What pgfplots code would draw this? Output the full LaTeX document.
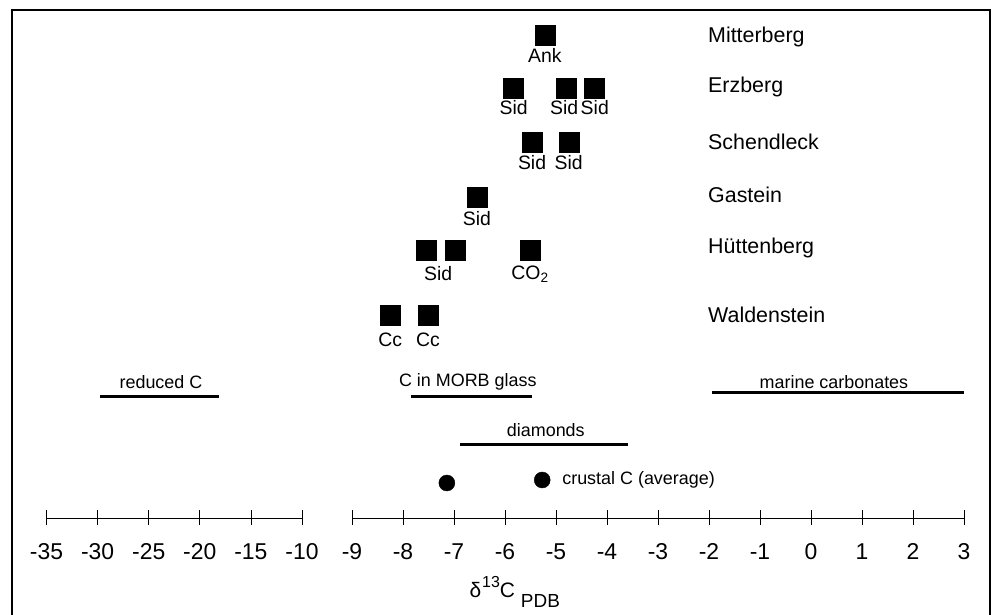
\documentclass[border=0pt]{standalone}
\usepackage{pgfplots}
\pgfplotsset{compat=1.18}
\usepackage{fontspec}
\setmainfont{Liberation Sans}

% squares: x = delta13C, y = row position
\pgfplotstableread[col sep=comma]{
x,y
-5.22,483
-5.83,430
-4.81,430
-4.26,430
-5.47,376
-4.75,376
-6.55,321
-7.55,268
-6.98,268
-5.51,268
-8.25,203
-7.51,203
}\squares

\pgfplotstableread[col sep=comma]{
x,y,label
-5.22,463,Ank
-5.83,410,Sid
-4.84,410,Sid
-4.24,410,Sid
-5.47,355,Sid
-4.75,355,Sid
-6.55,299,Sid
-7.31,244,Sid
-5.51,244,CO\textsubscript{2}
-8.25,178,Cc
-7.51,178,Cc
}\sqlabels

\pgfplotstableread[col sep=comma]{
x,y,label
-2.02,481,Mitterberg
-2.02,431,Erzberg
-2.02,376,Schendleck
-2.02,323,Gastein
-2.02,270,Hüttenberg
-2.02,203,Waldenstein
}\sites

\pgfplotstableread[col sep=comma]{
x,y,label
-6.73,136,C in MORB glass
0.45,136,marine carbonates
-5.20,88,diamonds
}\rangelabels

\begin{document}
\begin{tikzpicture}
\useasboundingbox (0,0) rectangle (994bp,615bp);
\draw[line width=2bp] (12bp,0) -- (12bp,605bp) -- (990bp,605bp) -- (990bp,0);

% left (compressed) part of the scale
\begin{axis}[
  at={(46.5bp,0)}, anchor=south west,
  scale only axis, width=255.5bp, height=605bp,
  xmin=-35, xmax=-10, ymin=-97, ymax=508,
  axis x line=middle, axis y line=none,
  axis line style={-, line width=0.7bp},
  xtick={-35,-30,-25,-20,-15,-10},
  xticklabels={-35,-30,-25,-20,-15,-10},
  tick align=center, major tick length=15bp,
  tick style={line width=0.7bp, black},
  xticklabel style={anchor=center, yshift=-26bp, font=\fontsize{23}{26}\selectfont},
  clip=false,
]
\addplot[line width=3bp, black] coordinates {(-29.76,121) (-18.1,121)};
\addplot[draw=none, mark=none, nodes near coords, point meta=explicit symbolic,
  nodes near coords align={center},
  every node near coord/.append style={font=\fontsize{18}{20}\selectfont, inner sep=0pt}]
  table[col sep=comma, x=x, y=y, meta=label] {
x,y,label
-23.8,136,reduced C
};
\end{axis}

% right part of the scale
\begin{axis}[
  at={(352bp,0)}, anchor=south west,
  scale only axis, width=612bp, height=605bp,
  xmin=-9, xmax=3, ymin=-97, ymax=508,
  axis x line=middle, axis y line=none,
  axis line style={-, line width=0.7bp},
  xtick={-9,-8,-7,-6,-5,-4,-3,-2,-1,0,1,2,3},
  xticklabels={-9,-8,-7,-6,-5,-4,-3,-2,-1,0,1,2,3},
  tick align=center, major tick length=15bp,
  tick style={line width=0.7bp, black},
  xticklabel style={anchor=center, yshift=-26bp, font=\fontsize{23}{26}\selectfont},
  clip=false,
]
% isotope data
\addplot[only marks, mark=square*, mark size=10bp, black] table[x=x, y=y] {\squares};
\addplot[draw=none, mark=none, nodes near coords, point meta=explicit symbolic,
  nodes near coords align={center},
  every node near coord/.append style={font=\fontsize{19.5}{22}\selectfont, inner sep=0pt}]
  table[x=x, y=y, meta=label] {\sqlabels};
\addplot[draw=none, mark=none, nodes near coords, point meta=explicit symbolic,
  nodes near coords align={west},
  every node near coord/.append style={font=\fontsize{21.5}{24}\selectfont, inner sep=0pt}]
  table[x=x, y=y, meta=label] {\sites};
% reference ranges
\addplot[line width=3bp, black] coordinates {(-7.84,121) (-5.47,121)};
\addplot[line width=3bp, black] coordinates {(-1.94,125) (3.0,125)};
\addplot[line width=3bp, black] coordinates {(-6.88,73) (-3.59,73)};
\addplot[draw=none, mark=none, nodes near coords, point meta=explicit symbolic,
  nodes near coords align={center},
  every node near coord/.append style={font=\fontsize{18}{20}\selectfont, inner sep=0pt}]
  table[x=x, y=y, meta=label] {\rangelabels};
% crustal C
\addplot[only marks, mark=*, mark size=8bp, black] coordinates {(-7.14,35) (-5.27,38)};
\addplot[draw=none, mark=none, nodes near coords, point meta=explicit symbolic,
  nodes near coords align={west},
  every node near coord/.append style={font=\fontsize{18}{20}\selectfont, inner sep=0pt}]
  table[col sep=comma, x=x, y=y, meta=label] {
x,y,label
-4.88,38,crustal C (average)
};
\node[anchor=base west, inner sep=0pt] at (axis cs:-6.70,-79)
  {\fontsize{21}{24}\selectfont δ\kern1bp\raisebox{10bp}{\fontsize{16}{18}\selectfont 13}C\kern6bp\raisebox{-10bp}{\fontsize{19}{22}\selectfont PDB}};
\end{axis}
\end{tikzpicture}
\end{document}
